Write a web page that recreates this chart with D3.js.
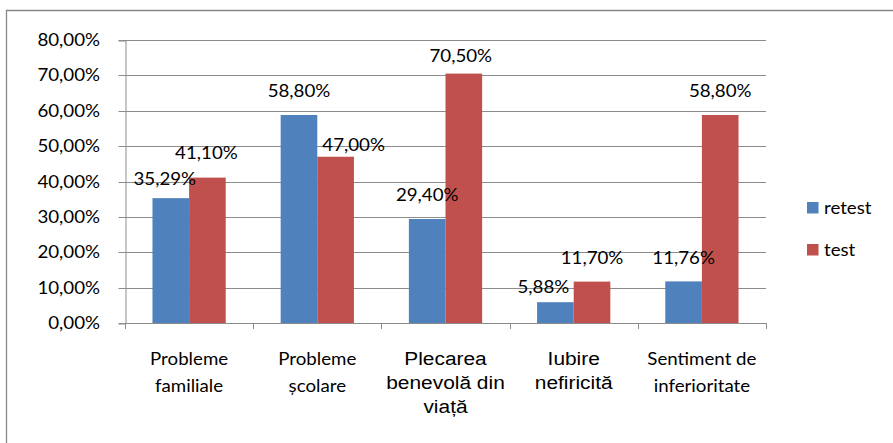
<!DOCTYPE html>
<html>
<head>
<meta charset="utf-8">
<script src="https://cdn.jsdelivr.net/npm/d3@7"></script>
<style>
  html, body { margin: 0; padding: 0; background: #fff; }
  svg { display: block; }
</style>
</head>
<body>
<svg id="chart" width="893" height="443"></svg>
<script>
// Categories, each split into the lines shown under the axis
const categories = ["Probleme familiale", "Probleme școlare", "Plecarea benevolă din viață", "Iubire nefiricită", "Sentiment de inferioritate"];
const categoryLines = [["Probleme", "familiale"], ["Probleme", "școlare"], ["Plecarea", "benevolă din", "viață"], ["Iubire", "nefiricită"], ["Sentiment de", "inferioritate"]];
const categoryFonts = ["sans", "sans", "arial", "arial", "sans"];

// Series values (percent)
const seriesNames = ["retest", "test"];
const retest = [35.29, 58.80, 29.40, 5.88, 11.76];
const test = [41.10, 47.00, 70.50, 11.70, 58.80];

// Y axis ticks (percent)
const yTicks = [0, 10, 20, 30, 40, 50, 60, 70, 80];

// Small hand placements of the data labels [dx, dy]
const retestLabelShift = [[-6, 4], [0, 0], [0, 0], [-12, 8], [0, 0]];
const testLabelShift = [[-1, -1], [18, 12], [-3, 6], [0, 0], [0, 0]];

const colors = { retest: "#4F81BD", test: "#C0504D" };
const gridColor = "#8c8c8c";
const calibriLike = "Lato, 'Open Sans', sans-serif";
const arialLike = "'Liberation Sans', Arial, sans-serif";
const stretch = 1.1;   // text is drawn slightly wide

const locale = d3.formatLocale({ decimal: ",", thousands: ".", grouping: [3], currency: ["", ""] });
const pct = v => locale.format(".2f")(v) + "%";

const svg = d3.select("#chart");
const plot = { left: 125, right: 766, top: 40, bottom: 323 };

// Outer frame of the chart
svg.append("path")
  .attr("d", "M6.5,450 V10.5 H900")
  .attr("fill", "none")
  .attr("stroke", "#888")
  .attr("stroke-width", 1.3);

const x0 = d3.scaleBand().domain(categories).range([plot.left, plot.right]).paddingInner(0).paddingOuter(0);
const x1 = d3.scaleBand().domain(seriesNames).range([0, x0.bandwidth()]).paddingInner(0).paddingOuter(0.75);
const y = d3.scaleLinear().domain([0, 80]).range([plot.bottom, plot.top]);

// Helper: stretched text at (x, y)
function stretchedText(g, x, yy, str, anchor, family, size) {
  return g.append("text")
    .attr("transform", `translate(${x},${yy}) scale(${stretch},1)`)
    .attr("text-anchor", anchor)
    .attr("font-family", family)
    .attr("font-size", size)
    .attr("fill", "#000")
    .text(str);
}

// Horizontal gridlines
svg.append("g").selectAll("line").data(yTicks).join("line")
  .attr("x1", plot.left).attr("x2", plot.right)
  .attr("y1", d => Math.round(y(d)) + 0.5).attr("y2", d => Math.round(y(d)) + 0.5)
  .attr("stroke", gridColor).attr("stroke-width", 1);

// Y axis
const yAxis = svg.append("g")
  .attr("transform", `translate(${plot.left + 0.5},0.5)`)
  .call(d3.axisLeft(y).tickValues(yTicks).tickSize(7).tickFormat(""));
yAxis.select(".domain").attr("stroke", gridColor);
yAxis.selectAll(".tick line").attr("stroke", gridColor);
yAxis.selectAll(".tick").attr("transform", d => `translate(0,${Math.round(y(d))})`);

const yLabels = svg.append("g");
yTicks.forEach(t => {
  stretchedText(yLabels, 100, Math.round(y(t)) + 6, pct(t), "end", calibriLike, 17);
});

// Bars
const groups = svg.append("g").selectAll("g").data(categories).join("g")
  .attr("transform", d => `translate(${x0(d)},0)`);
groups.each(function (cat, i) {
  const g = d3.select(this);
  [["retest", retest[i]], ["test", test[i]]].forEach(([name, v]) => {
    g.append("rect")
      .attr("x", x1(name))
      .attr("width", x1.bandwidth())
      .attr("y", y(v))
      .attr("height", y(0) - y(v))
      .attr("fill", colors[name]);
  });
});

// X axis with boundary ticks
const xAxis = svg.append("g");
xAxis.append("line")
  .attr("x1", plot.left).attr("x2", plot.right)
  .attr("y1", Math.round(y(0)) + 0.5).attr("y2", Math.round(y(0)) + 0.5)
  .attr("stroke", gridColor);
xAxis.selectAll("line.tick").data(d3.range(categories.length + 1)).join("line")
  .attr("class", "tick")
  .attr("x1", i => Math.round(plot.left + i * x0.step()) + 0.5)
  .attr("x2", i => Math.round(plot.left + i * x0.step()) + 0.5)
  .attr("y1", Math.round(y(0))).attr("y2", Math.round(y(0)) + 6)
  .attr("stroke", gridColor);

// Category labels
const catLabels = svg.append("g");
categories.forEach((cat, i) => {
  const cx = x0(cat) + x0.bandwidth() / 2;
  const isArial = categoryFonts[i] === "arial";
  const lh = isArial ? 24 : 26.5;
  categoryLines[i].forEach((line, j) => {
    stretchedText(catLabels, cx, 365 + j * lh, line, "middle",
      isArial ? arialLike : calibriLike, isArial ? 19 : 17);
  });
});

// Data labels
const dataLabels = svg.append("g");
categories.forEach((cat, i) => {
  [["retest", retest[i], retestLabelShift[i]], ["test", test[i], testLabelShift[i]]].forEach(([name, v, s]) => {
    const cx = x0(cat) + x1(name) + x1.bandwidth() / 2;
    stretchedText(dataLabels, cx + s[0], y(v) - 17.5 + s[1], pct(v), "middle", calibriLike, 17);
  });
});

// Legend
const legend = svg.append("g");
seriesNames.forEach((name, i) => {
  const ly = 202 + i * 42;
  legend.append("rect")
    .attr("x", 807).attr("y", ly)
    .attr("width", 11.5).attr("height", 11.5)
    .attr("fill", colors[name]);
  stretchedText(legend, 824, ly + 12, name, "start", calibriLike, 17);
});
</script>
</body>
</html>
